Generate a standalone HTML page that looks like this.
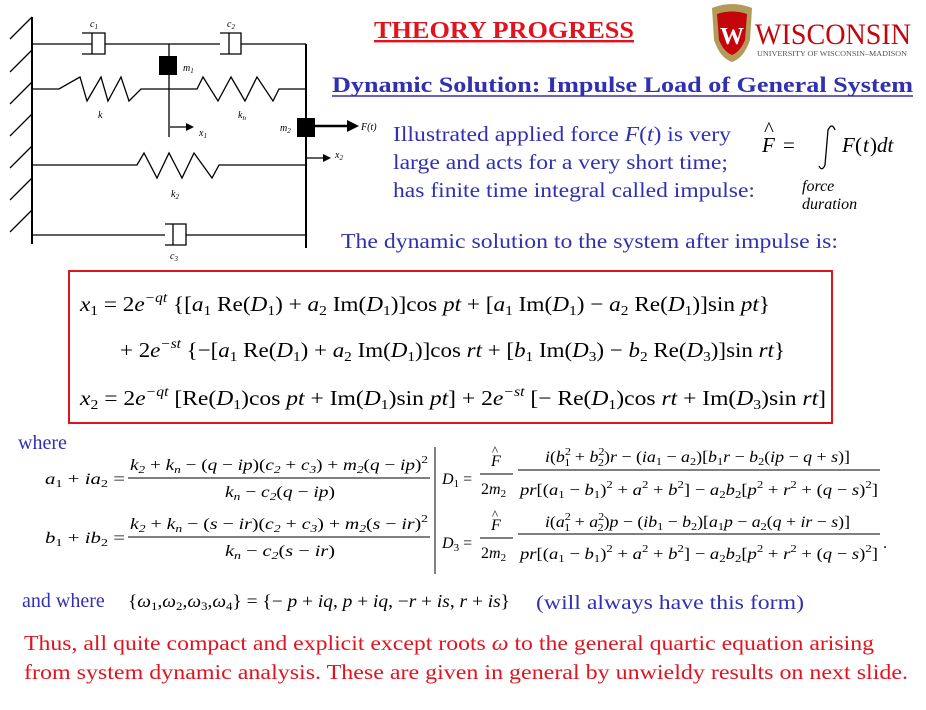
<!DOCTYPE html>
<html><head><meta charset="utf-8"><style>
body{margin:0;background:#fff;width:926px;height:710px;overflow:hidden}
svg{display:block}
.s{font-family:"Liberation Serif",serif}
.b{fill:#3030b0}
.r{fill:#e0141e}
.m{font-family:"Liberation Serif",serif;fill:#000}
</style></head><body>
<svg width="926" height="710" viewBox="0 0 926 710" xmlns="http://www.w3.org/2000/svg">
<g stroke="#000" stroke-width="1.3" fill="none">
<line x1="32" y1="17" x2="32" y2="244" stroke-width="2"/>
<path d="M10 39L32 17M10 72L32 50M10 104L32 82M10 136L32 114M10 168L32 146M10 200L32 178M10 232L32 210"/>
<line x1="32" y1="44" x2="82" y2="44"/><line x1="105" y1="44" x2="220" y2="44"/><line x1="241" y1="44" x2="306" y2="44"/>
<path d="M82 33H105V54H82M92 33V54M82 44H92"/><path d="M220 33H241V54H220M229 33V54"/>
<line x1="306" y1="44" x2="306" y2="248" stroke-width="2"/>
<line x1="169" y1="44" x2="169" y2="137"/>
<path d="M32 89H59L80 77L87 101L101 77L108 101L121 77L129 101L141 89H197L203 77L218 101L231 77L245 101L257 77L273 101L279 89H306"/>
<path d="M31 165H137L144 153L157 178L169 153L182 178L194 153L212 178L219 165H306"/>
<path d="M32 235H165M186 235H306M165 224H186V245H165M173 224V245" />
<line x1="170" y1="127" x2="188" y2="127"/><line x1="307" y1="158" x2="325" y2="158"/>
<line x1="315" y1="126" x2="350" y2="126" stroke-width="2.5"/>
</g>
<rect x="159" y="56" width="18" height="19" fill="#000"/>
<rect x="297" y="118" width="18" height="19" fill="#000"/>
<path d="M186 123L194 127L186 131Z M323 154L331 158L323 162Z M347 120L359 126L347 132Z" fill="#000"/>
<g class="s" font-style="italic" font-size="10" fill="#000">
<text x="90" y="27">c<tspan font-size="7" dy="2">1</tspan></text>
<text x="227" y="27">c<tspan font-size="7" dy="2">2</tspan></text>
<text x="183" y="71">m<tspan font-size="7" dy="2">1</tspan></text>
<text x="98" y="118">k</text><text x="238" y="118">k<tspan font-size="7" dy="2">n</tspan></text>
<text x="199" y="136">x<tspan font-size="7" dy="2">1</tspan></text>
<text x="280" y="131">m<tspan font-size="7" dy="2">2</tspan></text>
<text x="361" y="130">F(t)</text>
<text x="335" y="158">x<tspan font-size="7" dy="2">2</tspan></text>
<text x="171" y="197">k<tspan font-size="7" dy="2">2</tspan></text>
<text x="170" y="259">c<tspan font-size="7" dy="2">3</tspan></text>
</g>
<!-- logo -->
<path d="M712 8Q732 0 752 8L750 40Q744 58 732 62Q720 58 714 40Z" fill="#b39a5a"/>
<path d="M717 14Q732 9 747 14L745 40Q740 52 732 55Q724 52 719 40Z" fill="#c5050c"/>
<text x="732" y="44" class="s" font-size="24" font-weight="bold" fill="#fff" text-anchor="middle">W</text>
<text x="755" y="44" class="s" font-size="30" fill="#c5050c" textLength="156" lengthAdjust="spacingAndGlyphs">WISCONSIN</text>
<text x="757" y="56" class="s" font-size="7" fill="#555" textLength="150" lengthAdjust="spacingAndGlyphs">UNIVERSITY OF WISCONSIN–MADISON</text>
<text x="374" y="38" class="s r" font-size="24" font-weight="bold" textLength="260" lengthAdjust="spacingAndGlyphs" text-decoration="underline">THEORY PROGRESS</text>
<line x1="374" y1="41" x2="634" y2="41" stroke="#e0141e" stroke-width="1.5"/>
<text x="332" y="92" class="s b" font-size="22" font-weight="bold" textLength="581" lengthAdjust="spacingAndGlyphs">Dynamic Solution: Impulse Load of General System</text>
<line x1="332" y1="96" x2="913" y2="96" stroke="#3030b0" stroke-width="1.5"/>
<g class="s b" font-size="21">
<text x="393" y="141" textLength="338" lengthAdjust="spacingAndGlyphs">Illustrated applied force <tspan font-style="italic">F</tspan>(<tspan font-style="italic">t</tspan>) is very</text>
<text x="393" y="169" textLength="335" lengthAdjust="spacingAndGlyphs">large and acts for a very short time;</text>
<text x="393" y="197" textLength="362" lengthAdjust="spacingAndGlyphs">has finite time integral called impulse:</text>
<text x="341" y="248" textLength="497" lengthAdjust="spacingAndGlyphs">The dynamic solution to the system after impulse is:</text>
</g>
<g class="m" font-size="21" font-style="italic">
<text x="762" y="152">F</text><text x="764" y="136" font-style="normal">^</text>
<text x="783" y="152" font-style="normal">=</text>
<path d="M835 130Q832 122 828 130L825 165Q822 172 819 166" stroke="#000" fill="none" stroke-width="1.3"/>
<text x="842" y="152">F</text><text x="855" y="152" font-style="normal">(</text><text x="863" y="152">t</text><text x="870" y="152" font-style="normal">)</text><text x="877" y="152">dt</text>
<text x="802" y="191" font-size="16">force</text>
<text x="802" y="209" font-size="16">duration</text>
</g>
<rect x="69" y="271" width="763" height="152" fill="none" stroke="#e0141e" stroke-width="2"/>
<g class="m" font-size="21">
<text x="80" y="311" textLength="690" lengthAdjust="spacingAndGlyphs"><tspan font-style="italic">x</tspan><tspan font-size="14" dy="4">1</tspan><tspan dy="-4"> = 2</tspan><tspan font-style="italic">e</tspan><tspan font-size="14" dy="-9" font-style="italic">−qt</tspan><tspan dy="9"> {[</tspan><tspan font-style="italic">a</tspan><tspan font-size="14" dy="4">1</tspan><tspan dy="-4"> Re(</tspan><tspan font-style="italic">D</tspan><tspan font-size="14" dy="4">1</tspan><tspan dy="-4">) + </tspan><tspan font-style="italic">a</tspan><tspan font-size="14" dy="4">2</tspan><tspan dy="-4"> Im(</tspan><tspan font-style="italic">D</tspan><tspan font-size="14" dy="4">1</tspan><tspan dy="-4">)]cos </tspan><tspan font-style="italic">pt</tspan> + [<tspan font-style="italic">a</tspan><tspan font-size="14" dy="4">1</tspan><tspan dy="-4"> Im(</tspan><tspan font-style="italic">D</tspan><tspan font-size="14" dy="4">1</tspan><tspan dy="-4">) − </tspan><tspan font-style="italic">a</tspan><tspan font-size="14" dy="4">2</tspan><tspan dy="-4"> Re(</tspan><tspan font-style="italic">D</tspan><tspan font-size="14" dy="4">1</tspan><tspan dy="-4">)]sin </tspan><tspan font-style="italic">pt</tspan>}</text>
<text x="120" y="357" textLength="665" lengthAdjust="spacingAndGlyphs">+ 2<tspan font-style="italic">e</tspan><tspan font-size="14" dy="-9" font-style="italic">−st</tspan><tspan dy="9"> {−[</tspan><tspan font-style="italic">a</tspan><tspan font-size="14" dy="4">1</tspan><tspan dy="-4"> Re(</tspan><tspan font-style="italic">D</tspan><tspan font-size="14" dy="4">1</tspan><tspan dy="-4">) + </tspan><tspan font-style="italic">a</tspan><tspan font-size="14" dy="4">2</tspan><tspan dy="-4"> Im(</tspan><tspan font-style="italic">D</tspan><tspan font-size="14" dy="4">1</tspan><tspan dy="-4">)]cos </tspan><tspan font-style="italic">rt</tspan> + [<tspan font-style="italic">b</tspan><tspan font-size="14" dy="4">1</tspan><tspan dy="-4"> Im(</tspan><tspan font-style="italic">D</tspan><tspan font-size="14" dy="4">3</tspan><tspan dy="-4">) − </tspan><tspan font-style="italic">b</tspan><tspan font-size="14" dy="4">2</tspan><tspan dy="-4"> Re(</tspan><tspan font-style="italic">D</tspan><tspan font-size="14" dy="4">3</tspan><tspan dy="-4">)]sin </tspan><tspan font-style="italic">rt</tspan>}</text>
<text x="80" y="405" textLength="746" lengthAdjust="spacingAndGlyphs"><tspan font-style="italic">x</tspan><tspan font-size="14" dy="4">2</tspan><tspan dy="-4"> = 2</tspan><tspan font-style="italic">e</tspan><tspan font-size="14" dy="-9" font-style="italic">−qt</tspan><tspan dy="9"> [Re(</tspan><tspan font-style="italic">D</tspan><tspan font-size="14" dy="4">1</tspan><tspan dy="-4">)cos </tspan><tspan font-style="italic">pt</tspan> + Im(<tspan font-style="italic">D</tspan><tspan font-size="14" dy="4">1</tspan><tspan dy="-4">)sin </tspan><tspan font-style="italic">pt</tspan>] + 2<tspan font-style="italic">e</tspan><tspan font-size="14" dy="-9" font-style="italic">−st</tspan><tspan dy="9"> [− Re(</tspan><tspan font-style="italic">D</tspan><tspan font-size="14" dy="4">1</tspan><tspan dy="-4">)cos </tspan><tspan font-style="italic">rt</tspan> + Im(<tspan font-style="italic">D</tspan><tspan font-size="14" dy="4">3</tspan><tspan dy="-4">)sin </tspan><tspan font-style="italic">rt</tspan>]</text>
</g>
<text x="18" y="449" class="s b" font-size="20">where</text>
<g class="m" font-size="16" font-style="italic">
<line x1="128" y1="478" x2="430" y2="478" stroke="#000"/>
<line x1="128" y1="537" x2="430" y2="537" stroke="#000"/>
<line x1="435" y1="447" x2="435" y2="574" stroke="#000"/>
<text x="45" y="484" textLength="80" lengthAdjust="spacingAndGlyphs">a<tspan font-size="11" dy="3" font-style="normal">1</tspan><tspan dy="-3" font-style="normal"> + </tspan>ia<tspan font-size="11" dy="3" font-style="normal">2</tspan><tspan dy="-3" font-style="normal"> =</tspan></text>
<text x="130" y="470" textLength="298" lengthAdjust="spacingAndGlyphs">k<tspan font-size="11" dy="3">2</tspan><tspan dy="-3" font-style="normal"> + </tspan>k<tspan font-size="11" dy="3">n</tspan><tspan dy="-3" font-style="normal"> − (</tspan>q<tspan font-style="normal"> − </tspan>ip<tspan font-style="normal">)(</tspan>c<tspan font-size="11" dy="3">2</tspan><tspan dy="-3" font-style="normal"> + </tspan>c<tspan font-size="11" dy="3">3</tspan><tspan dy="-3" font-style="normal">) + </tspan>m<tspan font-size="11" dy="3">2</tspan><tspan dy="-3" font-style="normal">(</tspan>q<tspan font-style="normal"> − </tspan>ip<tspan font-style="normal">)</tspan><tspan font-size="11" dy="-7" font-style="normal">2</tspan></text>
<text x="225" y="497" textLength="110" lengthAdjust="spacingAndGlyphs">k<tspan font-size="11" dy="3">n</tspan><tspan dy="-3" font-style="normal"> − </tspan>c<tspan font-size="11" dy="3">2</tspan><tspan dy="-3" font-style="normal">(</tspan>q<tspan font-style="normal"> − </tspan>ip<tspan font-style="normal">)</tspan></text>
<text x="45" y="543" textLength="80" lengthAdjust="spacingAndGlyphs">b<tspan font-size="11" dy="3" font-style="normal">1</tspan><tspan dy="-3" font-style="normal"> + </tspan>ib<tspan font-size="11" dy="3" font-style="normal">2</tspan><tspan dy="-3" font-style="normal"> =</tspan></text>
<text x="130" y="529" textLength="298" lengthAdjust="spacingAndGlyphs">k<tspan font-size="11" dy="3">2</tspan><tspan dy="-3" font-style="normal"> + </tspan>k<tspan font-size="11" dy="3">n</tspan><tspan dy="-3" font-style="normal"> − (</tspan>s<tspan font-style="normal"> − </tspan>ir<tspan font-style="normal">)(</tspan>c<tspan font-size="11" dy="3">2</tspan><tspan dy="-3" font-style="normal"> + </tspan>c<tspan font-size="11" dy="3">3</tspan><tspan dy="-3" font-style="normal">) + </tspan>m<tspan font-size="11" dy="3">2</tspan><tspan dy="-3" font-style="normal">(</tspan>s<tspan font-style="normal"> − </tspan>ir<tspan font-style="normal">)</tspan><tspan font-size="11" dy="-7" font-style="normal">2</tspan></text>
<text x="225" y="556" textLength="110" lengthAdjust="spacingAndGlyphs">k<tspan font-size="11" dy="3">n</tspan><tspan dy="-3" font-style="normal"> − </tspan>c<tspan font-size="11" dy="3">2</tspan><tspan dy="-3" font-style="normal">(</tspan>s<tspan font-style="normal"> − </tspan>ir<tspan font-style="normal">)</tspan></text>
<!-- D1 -->
<text x="442" y="484">D<tspan font-size="11" dy="3" font-style="normal">1</tspan><tspan dy="-3" font-style="normal"> =</tspan></text>
<line x1="480" y1="474" x2="513" y2="474" stroke="#000"/>
<text x="491" y="466">F</text><text x="492" y="455" font-style="normal" font-size="13">^</text>
<text x="481" y="494" font-style="normal">2<tspan font-style="italic">m</tspan><tspan font-size="11" dy="3">2</tspan></text>
<line x1="518" y1="470" x2="880" y2="470" stroke="#000"/>
<text x="545" y="462" textLength="305" lengthAdjust="spacingAndGlyphs">i<tspan font-style="normal">(</tspan>b<tspan font-size="11" dy="-7" font-style="normal">2</tspan><tspan font-size="11" dx="-6" dy="11" font-style="normal">1</tspan><tspan dy="-4" font-style="normal"> + </tspan>b<tspan font-size="11" dy="-7" font-style="normal">2</tspan><tspan font-size="11" dx="-6" dy="11" font-style="normal">2</tspan><tspan dy="-4" font-style="normal">)</tspan>r<tspan font-style="normal"> − (</tspan>ia<tspan font-size="11" dy="3" font-style="normal">1</tspan><tspan dy="-3" font-style="normal"> − </tspan>a<tspan font-size="11" dy="3" font-style="normal">2</tspan><tspan dy="-3" font-style="normal">)[</tspan>b<tspan font-size="11" dy="3" font-style="normal">1</tspan><tspan dy="-3">r</tspan><tspan font-style="normal"> − </tspan>b<tspan font-size="11" dy="3" font-style="normal">2</tspan><tspan dy="-3" font-style="normal">(</tspan>ip<tspan font-style="normal"> − </tspan>q<tspan font-style="normal"> + </tspan>s<tspan font-style="normal">)]</tspan></text>
<text x="520" y="495" textLength="358" lengthAdjust="spacingAndGlyphs">pr<tspan font-style="normal">[(</tspan>a<tspan font-size="11" dy="3" font-style="normal">1</tspan><tspan dy="-3" font-style="normal"> − </tspan>b<tspan font-size="11" dy="3" font-style="normal">1</tspan><tspan dy="-3" font-style="normal">)</tspan><tspan font-size="11" dy="-7" font-style="normal">2</tspan><tspan dy="7" font-style="normal"> + </tspan>a<tspan font-size="11" dy="-7" font-style="normal">2</tspan><tspan dy="7" font-style="normal"> + </tspan>b<tspan font-size="11" dy="-7" font-style="normal">2</tspan><tspan dy="7" font-style="normal">] − </tspan>a<tspan font-size="11" dy="3" font-style="normal">2</tspan><tspan dy="-3">b</tspan><tspan font-size="11" dy="3" font-style="normal">2</tspan><tspan dy="-3" font-style="normal">[</tspan>p<tspan font-size="11" dy="-7" font-style="normal">2</tspan><tspan dy="7" font-style="normal"> + </tspan>r<tspan font-size="11" dy="-7" font-style="normal">2</tspan><tspan dy="7" font-style="normal"> + (</tspan>q<tspan font-style="normal"> − </tspan>s<tspan font-style="normal">)</tspan><tspan font-size="11" dy="-7" font-style="normal">2</tspan><tspan dy="7" font-style="normal">]</tspan></text>
<!-- D3 -->
<text x="442" y="548">D<tspan font-size="11" dy="3" font-style="normal">3</tspan><tspan dy="-3" font-style="normal"> =</tspan></text>
<line x1="480" y1="538" x2="513" y2="538" stroke="#000"/>
<text x="491" y="530">F</text><text x="492" y="519" font-style="normal" font-size="13">^</text>
<text x="481" y="558" font-style="normal">2<tspan font-style="italic">m</tspan><tspan font-size="11" dy="3">2</tspan></text>
<line x1="518" y1="534" x2="880" y2="534" stroke="#000"/>
<text x="545" y="527" textLength="305" lengthAdjust="spacingAndGlyphs">i<tspan font-style="normal">(</tspan>a<tspan font-size="11" dy="-7" font-style="normal">2</tspan><tspan font-size="11" dx="-6" dy="11" font-style="normal">1</tspan><tspan dy="-4" font-style="normal"> + </tspan>a<tspan font-size="11" dy="-7" font-style="normal">2</tspan><tspan font-size="11" dx="-6" dy="11" font-style="normal">2</tspan><tspan dy="-4" font-style="normal">)</tspan>p<tspan font-style="normal"> − (</tspan>ib<tspan font-size="11" dy="3" font-style="normal">1</tspan><tspan dy="-3" font-style="normal"> − </tspan>b<tspan font-size="11" dy="3" font-style="normal">2</tspan><tspan dy="-3" font-style="normal">)[</tspan>a<tspan font-size="11" dy="3" font-style="normal">1</tspan><tspan dy="-3">p</tspan><tspan font-style="normal"> − </tspan>a<tspan font-size="11" dy="3" font-style="normal">2</tspan><tspan dy="-3" font-style="normal">(</tspan>q<tspan font-style="normal"> + </tspan>ir<tspan font-style="normal"> − </tspan>s<tspan font-style="normal">)]</tspan></text>
<text x="520" y="559" textLength="358" lengthAdjust="spacingAndGlyphs">pr<tspan font-style="normal">[(</tspan>a<tspan font-size="11" dy="3" font-style="normal">1</tspan><tspan dy="-3" font-style="normal"> − </tspan>b<tspan font-size="11" dy="3" font-style="normal">1</tspan><tspan dy="-3" font-style="normal">)</tspan><tspan font-size="11" dy="-7" font-style="normal">2</tspan><tspan dy="7" font-style="normal"> + </tspan>a<tspan font-size="11" dy="-7" font-style="normal">2</tspan><tspan dy="7" font-style="normal"> + </tspan>b<tspan font-size="11" dy="-7" font-style="normal">2</tspan><tspan dy="7" font-style="normal">] − </tspan>a<tspan font-size="11" dy="3" font-style="normal">2</tspan><tspan dy="-3">b</tspan><tspan font-size="11" dy="3" font-style="normal">2</tspan><tspan dy="-3" font-style="normal">[</tspan>p<tspan font-size="11" dy="-7" font-style="normal">2</tspan><tspan dy="7" font-style="normal"> + </tspan>r<tspan font-size="11" dy="-7" font-style="normal">2</tspan><tspan dy="7" font-style="normal"> + (</tspan>q<tspan font-style="normal"> − </tspan>s<tspan font-style="normal">)</tspan><tspan font-size="11" dy="-7" font-style="normal">2</tspan><tspan dy="7" font-style="normal">]</tspan></text>
<text x="883" y="548" font-style="normal">.</text>
</g>
<text x="22" y="607" class="s b" font-size="20">and where</text>
<text x="128" y="607" class="m" font-size="18" textLength="382" lengthAdjust="spacingAndGlyphs">{<tspan font-style="italic">ω</tspan><tspan font-size="12" dy="3">1</tspan><tspan dy="-3">,</tspan><tspan font-style="italic">ω</tspan><tspan font-size="12" dy="3">2</tspan><tspan dy="-3">,</tspan><tspan font-style="italic">ω</tspan><tspan font-size="12" dy="3">3</tspan><tspan dy="-3">,</tspan><tspan font-style="italic">ω</tspan><tspan font-size="12" dy="3">4</tspan><tspan dy="-3">} = {− </tspan><tspan font-style="italic">p</tspan> + <tspan font-style="italic">iq</tspan>, <tspan font-style="italic">p</tspan> + <tspan font-style="italic">iq</tspan>, −<tspan font-style="italic">r</tspan> + <tspan font-style="italic">is</tspan>, <tspan font-style="italic">r</tspan> + <tspan font-style="italic">is</tspan>}</text>
<text x="536" y="609" class="s b" font-size="20" textLength="268" lengthAdjust="spacingAndGlyphs">(will always have this form)</text>
<g class="s r" font-size="21">
<text x="24" y="650" textLength="850" lengthAdjust="spacingAndGlyphs">Thus, all quite compact and explicit except roots <tspan font-style="italic">ω</tspan> to the general quartic equation arising</text>
<text x="24" y="679" textLength="884" lengthAdjust="spacingAndGlyphs">from system dynamic analysis.  These are given in general by unwieldy results on next slide.</text>
</g>
</svg>
</body></html>
